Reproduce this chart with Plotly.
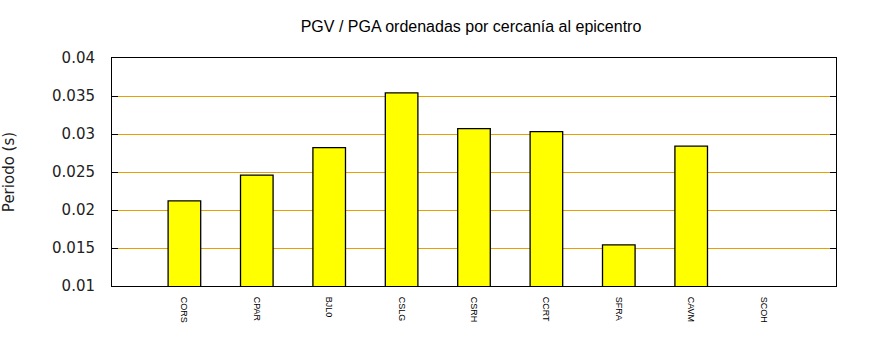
import plotly.graph_objects as go

stations = ["CORS", "CPAR", "BJL0", "CSLG", "CSRH", "CCRT", "SFRA", "CAVM", "SCOH"]
values = [0.0212, 0.0246, 0.0282, 0.0354, 0.0307, 0.0303, 0.0154, 0.0284, None]
y_ticks = [0.01, 0.015, 0.02, 0.025, 0.03, 0.035, 0.04]
y_tick_labels = ["0.01", "0.015", "0.02", "0.025", "0.03", "0.035", "0.04"]

fig = go.Figure()
fig.add_trace(go.Bar(
    x=list(range(len(stations))), y=values, width=0.45,
    marker=dict(color="#ffff00", line=dict(color="#000000", width=1.3)),
    showlegend=False,
))

fig.update_layout(
    width=870, height=350,
    margin=dict(l=112, r=34, t=58, b=64),
    paper_bgcolor="white", plot_bgcolor="white",
    title=dict(text="PGV / PGA ordenadas por cercanía al epicentro",
               x=0.5414, xanchor="center", y=0.926, yanchor="middle",
               font=dict(family="Liberation Sans", size=16, color="#000000")),
    xaxis=dict(
        range=[-1, 9], tickmode="array", tickvals=list(range(len(stations))),
        ticktext=stations, tickangle=90, automargin=False,
        tickfont=dict(family="Liberation Sans", size=9, color="#000000"),
        showgrid=False, zeroline=False, showline=True, linecolor="#000000",
        linewidth=1, mirror=True, ticks="", ticklabelstandoff=8,
    ),
    yaxis=dict(
        range=[0.01, 0.04], tickmode="array", tickvals=y_ticks, ticktext=y_tick_labels,
        tickfont=dict(family="DejaVu Sans", size=15, color="#222222"),
        showgrid=True, gridcolor="#e8a000", gridwidth=1, zeroline=False,
        showline=True, linecolor="#000000", linewidth=1, mirror="ticks",
        ticks="inside", ticklen=6, tickcolor="#000000", ticklabelstandoff=13,
        automargin=False,
        title=dict(text="Periodo (s)", standoff=35,
                   font=dict(family="DejaVu Sans", size=15, color="#222222")),
    ),
)

fig.write_html("out.html")
